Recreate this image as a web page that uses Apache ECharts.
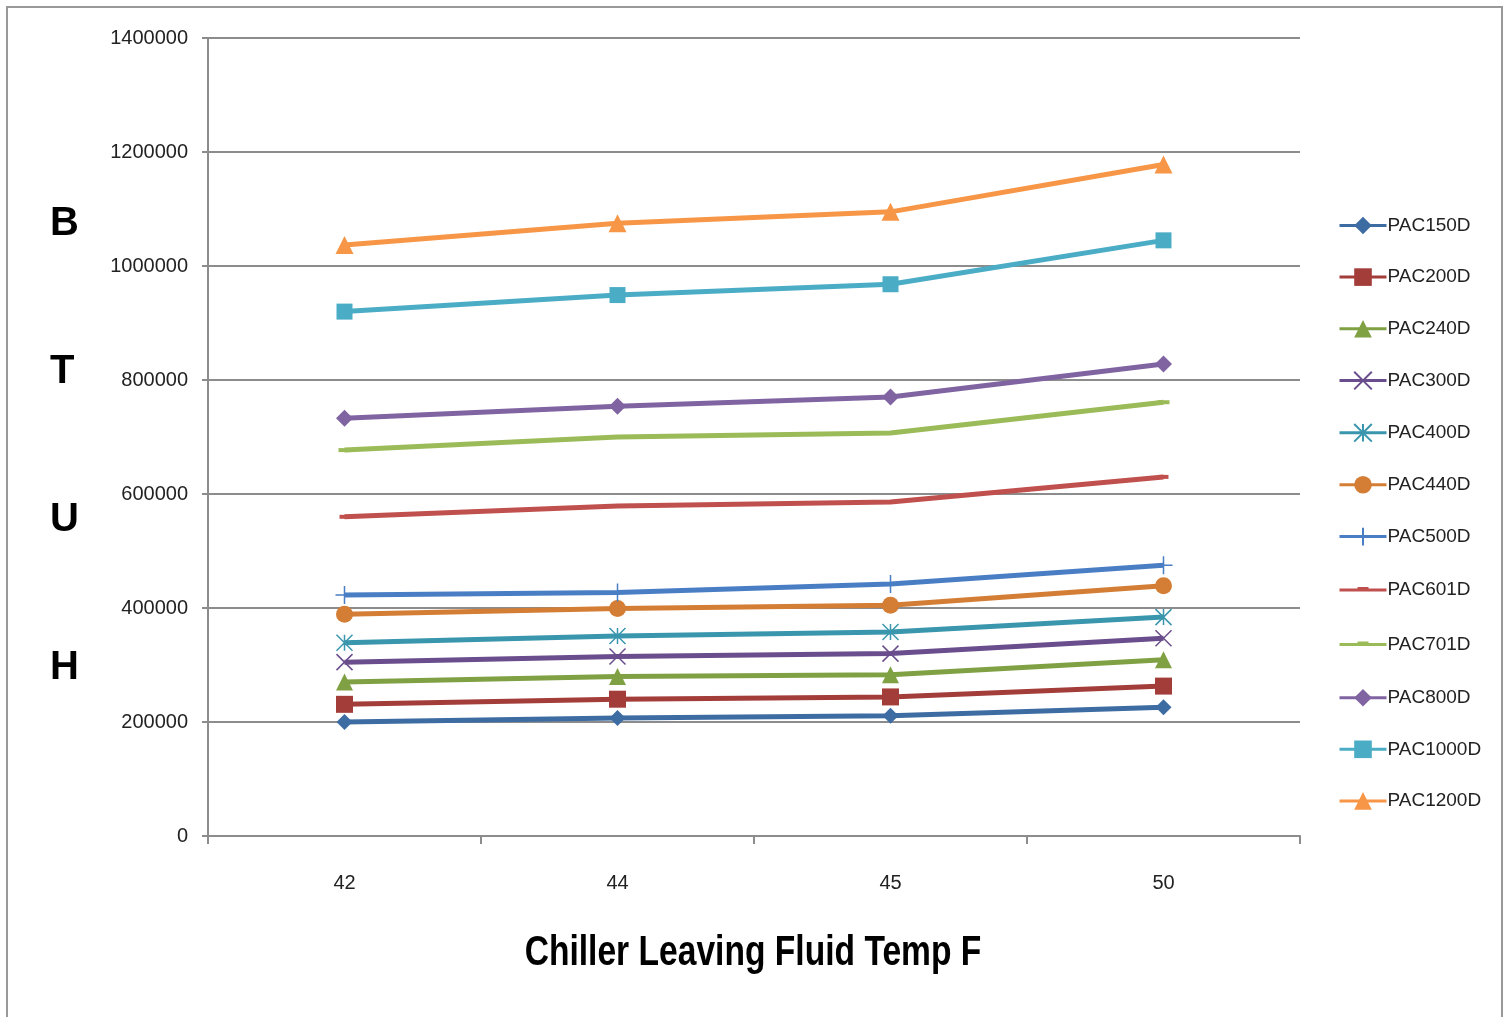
<!DOCTYPE html>
<html>
<head>
<meta charset="utf-8">
<script src="https://cdn.jsdelivr.net/npm/echarts@6/dist/echarts.min.js"></script>
<style>html,body{margin:0;padding:0;background:#fff;}#c{width:1509px;height:1017px;}</style>
</head>
<body>
<div id="c"></div>
<script>
const categories = ['42', '44', '45', '50'];
const seriesNames = ['PAC150D','PAC200D','PAC240D','PAC300D','PAC400D','PAC440D','PAC500D','PAC601D','PAC701D','PAC800D','PAC1000D','PAC1200D'];
const PAC150D  = [200000, 207000, 211000, 226000];
const PAC200D  = [231000, 240000, 244000, 263000];
const PAC240D  = [270000, 280000, 283000, 309000];
const PAC300D  = [305000, 315000, 320000, 347000];
const PAC400D  = [339000, 351000, 358000, 384000];
const PAC440D  = [389000, 399000, 405000, 439000];
const PAC500D  = [423000, 427000, 442000, 475000];
const PAC601D  = [560000, 579000, 586000, 630000];
const PAC701D  = [677000, 700000, 707000, 761000];
const PAC800D  = [733000, 754000, 770000, 828000];
const PAC1000D = [920000, 949000, 968000, 1045000];
const PAC1200D = [1037000, 1075000, 1095000, 1178000];
const seriesData = [PAC150D,PAC200D,PAC240D,PAC300D,PAC400D,PAC440D,PAC500D,PAC601D,PAC701D,PAC800D,PAC1000D,PAC1200D];
const yAxisTicks = [0, 200000, 400000, 600000, 800000, 1000000, 1200000, 1400000];
const yLetters = ['B', 'T', 'U', 'H'];

const colors = ['#3D6CA3','#A33D3A','#80A044','#6A4D8C','#3A96AD','#D47D35','#4A7EC4','#C0504D','#9BBB59','#8064A2','#4BACC6','#F79646'];
const symbols = [
  'diamond', 'rect', 'triangle',
  'path://M0,0L10,10M10,0L0,10',
  'path://M5,0L5,10M0,0L10,10M10,0L0,10',
  'circle',
  'path://M5,0L5,10M0,5L10,5',
  'rect', 'rect', 'diamond', 'rect', 'triangle'
];
const sizes = [16, 17, 17, 16, 16, 17, 18, [10,4], [12,4], 17, 16, 18];
const strokeOnly = [false,false,false,true,true,false,true,false,false,false,false,false];
const dashIcon = 'path://M0,0L0.02,0L0,0.02Z M0,9.5L47,9.5L47,12.5L0,12.5Z M18,8L29,8L29,11L18,11Z M47,22L46.98,22L47,21.98Z';

const FONT = '"Liberation Sans", Arial, sans-serif';

const chart = echarts.init(document.getElementById('c'), null, {renderer: 'canvas'});

const series = seriesNames.map((n, i) => ({
  name: n,
  type: 'line',
  data: seriesData[i],
  symbol: symbols[i],
  symbolSize: sizes[i],
  showSymbol: true,
  lineStyle: {width: 5, color: colors[i]},
  itemStyle: strokeOnly[i]
    ? {color: colors[i], borderColor: colors[i], borderWidth: 1.5}
    : {color: colors[i], borderWidth: 0},
  z: 2 + i
}));

const legendData = seriesNames.map((n, i) => (i === 7 || i === 8) ? {name: n, icon: dashIcon} : {name: n});

chart.setOption({
  animation: false,
  backgroundColor: '#fff',
  grid: {left: 208, right: 209, top: 38, bottom: 181, containLabel: false},
  xAxis: {
    type: 'category',
    data: categories,
    boundaryGap: true,
    axisLine: {lineStyle: {color: '#8c8c8c', width: 2}},
    axisTick: {show: true, length: 8, inside: false, lineStyle: {color: '#8c8c8c', width: 2}},
    axisLabel: {color: '#222', fontSize: 20, fontFamily: FONT, margin: 37},
    splitLine: {show: false}
  },
  yAxis: {
    type: 'value',
    min: 0, max: 1400000, interval: 200000,
    axisLine: {show: true, lineStyle: {color: '#8c8c8c', width: 2}},
    axisTick: {show: true, length: 6, lineStyle: {color: '#8c8c8c', width: 2}},
    axisLabel: {color: '#222', fontSize: 20, fontFamily: FONT, margin: 20,
      formatter: v => yAxisTicks.includes(v) ? String(v) : ''},
    splitLine: {show: true, lineStyle: {color: '#8c8c8c', width: 2}}
  },
  legend: {
    orient: 'vertical',
    left: 1333, top: 211,
    itemWidth: 47, itemHeight: 22, itemGap: 32.6,
    lineStyle: {width: 3},
    textStyle: {color: '#222', fontSize: 19, fontFamily: FONT, padding: [0,0,0,-4]},
    data: legendData
  },
  graphic: [
    {type: 'rect', shape: {x: 7, y: 7, width: 1495, height: 1030},
     style: {fill: 'none', stroke: '#999', lineWidth: 2}, silent: true, z: -1},
    ...yLetters.map((t, i) => ({
      type: 'text', left: 50, top: 204 + i * 148,
      style: {text: t, font: 'bold 40px ' + FONT, fill: '#000'}
    })),
    {type: 'text', x: 753, y: 953, scaleX: 0.8, originX: 0, originY: 0,
     style: {text: 'Chiller Leaving Fluid Temp F', font: 'bold 42px ' + FONT, fill: '#000', x: 0, y: 0, textAlign: 'center', textVerticalAlign: 'middle'}}
  ],
  series: series
});
</script>
</body>
</html>
